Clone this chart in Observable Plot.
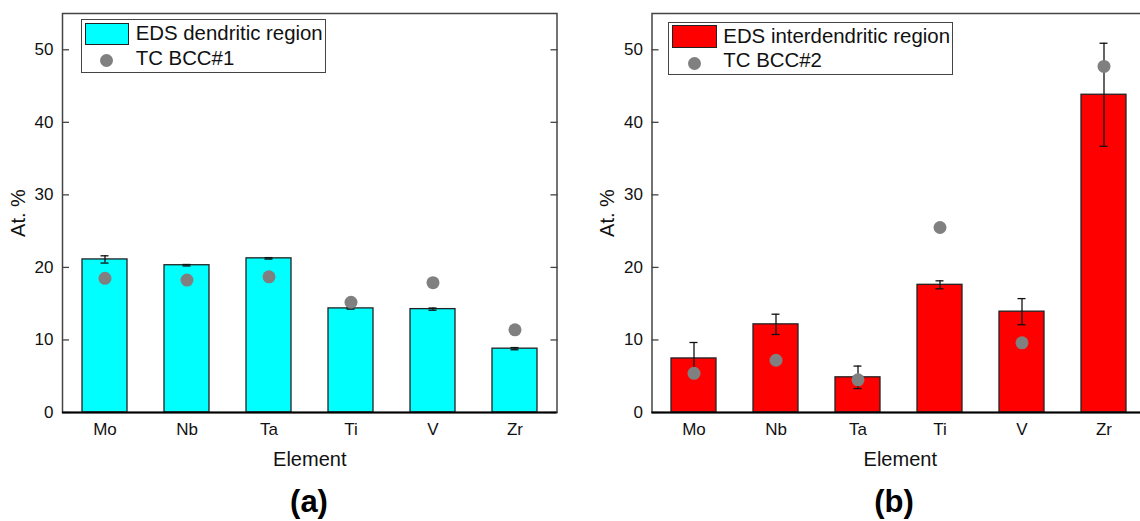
<!DOCTYPE html>
<html>
<head>
<meta charset="utf-8">
<script src="https://cdn.jsdelivr.net/npm/d3@7"></script>
<script src="https://cdn.jsdelivr.net/npm/@observablehq/plot@0.6"></script>
<style>
  html, body { margin: 0; padding: 0; background: #fff; }
  html { overflow: hidden; }
  body { width: 1140px; height: 521px; overflow: hidden; position: relative; font-family: "Liberation Sans", Arial, sans-serif; }
  .panel { position: absolute; top: 0; }
  .panel svg { max-width: none !important; }
  .legend { position: absolute; border: 1.3px solid #444; background: #fff; box-sizing: border-box; font-size: 20.4px; color: #111; }
  .legend .sw { position: absolute; box-sizing: border-box; border: 1.3px solid #222; }
  .legend .dot { position: absolute; width: 13px; height: 13px; border-radius: 50%; background: #808080; }
  .legend .lab { position: absolute; line-height: 1; white-space: nowrap; }
  .cap { position: absolute; font-weight: bold; font-size: 31px; color: #000; transform: translateX(-50%); line-height: 1; }
</style>
</head>
<body>
<div id="pa" class="panel" style="left:0px; width:570px"></div>
<div id="pb" class="panel" style="left:580px; width:580px"></div>
<script>
// ---- data ----
const elements = ["Mo", "Nb", "Ta", "Ti", "V", "Zr"];
const edsDendritic = [21.1, 20.3, 21.25, 14.35, 14.25, 8.8];
const edsDendriticErr = [0.5, 0.1, 0.1, 0.1, 0.15, 0.15];
const tcBcc1 = [18.5, 18.25, 18.7, 15.2, 17.9, 11.4];
const edsInterdendritic = [7.45, 12.15, 4.85, 17.6, 13.9, 43.8];
const edsInterdendriticErr = [2.2, 1.4, 1.55, 0.55, 1.8, 7.1];
const tcBcc2 = [5.4, 7.2, 4.5, 25.5, 9.6, 47.7];
const yTicks = [0, 10, 20, 30, 40, 50];
const legendA = ["EDS dendritic region", "TC BCC#1"];
const legendB = ["EDS interdendritic region", "TC BCC#2"];

const FONT = '"Liberation Sans", Arial, sans-serif';

function panel({vals, errs, tc, fill, width, marginLeft, marginRight, xRange}) {
  const data = elements.map((el, i) => ({el, v: vals[i], e: errs[i], tc: tc[i]}));
  const height = 480;
  const x = {domain: elements, paddingInner: 0.45, paddingOuter: 0.225, align: 0.5};
  if (xRange) x.range = xRange;
  return Plot.plot({
    width, height,
    marginTop: 13, marginBottom: 68, marginLeft, marginRight,
    style: {fontFamily: FONT, fontSize: "17px", color: "#111", background: "white", overflow: "visible", maxWidth: "none"},
    x,
    y: {domain: [0, 55]},
    marks: [
      Plot.barY(data, {x: "el", y: "v", fill, stroke: "#222", strokeWidth: 1.3}),
      Plot.ruleX(data, {x: "el", y1: d => d.v - d.e, y2: d => d.v + d.e, stroke: "#111", strokeWidth: 1.3}),
      Plot.tickY(data, {x: "el", y: d => d.v + d.e, stroke: "#111", strokeWidth: 1.3, insetLeft: 18.5, insetRight: 18.5}),
      Plot.tickY(data, {x: "el", y: d => d.v - d.e, stroke: "#111", strokeWidth: 1.3, insetLeft: 18.5, insetRight: 18.5}),
      Plot.dot(data, {x: "el", y: "tc", r: 6.5, fill: "#808080", stroke: "none"}),
      Plot.frame({stroke: "#444", strokeWidth: 1.5}),
      Plot.axisY({ticks: yTicks, tickSize: -7, tickPadding: 16, stroke: "#444", strokeWidth: 1.3,
        fontSize: 17, label: "At. %", labelAnchor: "center", labelOffset: 52, labelArrow: "none"}),
      Plot.axisY({anchor: "right", ticks: yTicks, tickSize: -7, tickFormat: () => "", stroke: "#444", strokeWidth: 1.3, label: null}),
      Plot.ruleY([0], {stroke: "#000", strokeWidth: 2}),
      Plot.axisX({tickSize: 0, tickPadding: 10, fontSize: 17, label: "Element", labelAnchor: "center", labelOffset: 53, labelArrow: "none"})
    ]
  });
}

const pa = panel({vals: edsDendritic, errs: edsDendriticErr, tc: tcBcc1, fill: "#00FFFF", width: 570, marginLeft: 62, marginRight: 13.5});
const pb = panel({vals: edsInterdendritic, errs: edsInterdendriticErr, tc: tcBcc2, fill: "#FF0000", width: 580, marginLeft: 71.5, marginRight: 12, xRange: [71.5, 566]});
document.getElementById("pa").appendChild(pa);
document.getElementById("pb").appendChild(pb);

for (const svg of [pa, pb]) {
  svg.querySelectorAll("[aria-label='y-axis label'], [aria-label='x-axis label']").forEach(g => g.setAttribute("font-size", "20"));
}

function legend(labels, fill, box, sw, dot, textX, baselines) {
  const L = document.createElement("div");
  L.className = "legend";
  Object.assign(L.style, {left: box.x + "px", top: box.y + "px", width: box.w + "px", height: box.h + "px"});
  const s = document.createElement("div");
  s.className = "sw";
  Object.assign(s.style, {left: sw.x + "px", top: sw.y + "px", width: sw.w + "px", height: sw.h + "px", background: fill});
  L.appendChild(s);
  const d = document.createElement("div");
  d.className = "dot";
  Object.assign(d.style, {left: (dot.x - 6.5) + "px", top: (dot.y - 6.5) + "px"});
  L.appendChild(d);
  labels.forEach((t, i) => {
    const lab = document.createElement("div");
    lab.className = "lab";
    lab.textContent = t;
    Object.assign(lab.style, {left: textX + "px", top: (baselines[i] - 18.5) + "px"});
    L.appendChild(lab);
  });
  document.body.appendChild(L);
}
legend(legendA, "#00FFFF", {x: 80.7, y: 19, w: 245.5, h: 53.5}, {x: 3, y: 3, w: 44.5, h: 22}, {x: 24.6, y: 40.3}, 54, [21.7, 46]);
legend(legendB, "#FF0000", {x: 668.3, y: 21.7, w: 285, h: 53.5}, {x: 2.5, y: 2.5, w: 45, h: 22.5}, {x: 25, y: 40.6}, 54, [21.6, 46]);

function caption(t, cx) {
  const c = document.createElement("div");
  c.className = "cap";
  c.textContent = t;
  Object.assign(c.style, {left: cx + "px", top: "486px"});
  document.body.appendChild(c);
}
caption("(a)", 309);
caption("(b)", 894);
</script>
</body>
</html>
